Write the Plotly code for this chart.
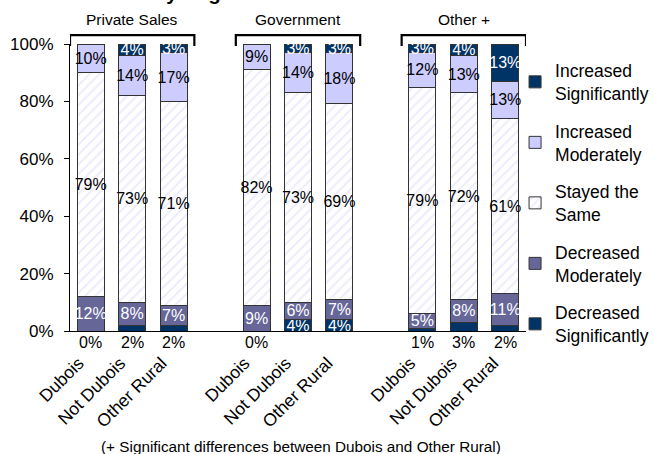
import plotly.graph_objects as go

# ---------------- data ----------------
groups = ["Private Sales", "Government", "Other +"]
regions = ["Dubois", "Not Dubois", "Other Rural"]
series_names = ["Decreased<br>Significantly", "Decreased<br>Moderately", "Stayed the<br>Same",
                "Increased<br>Moderately", "Increased<br>Significantly"]
# values per bar in order: Private(Dubois, Not Dubois, Other Rural), Government(...), Other +(...)
dec_sig = [0, 2, 2, 0, 4, 4, 1, 3, 2]
dec_mod = [12, 8, 7, 9, 6, 7, 5, 8, 11]
stayed = [79, 73, 71, 82, 73, 69, 79, 72, 61]
inc_mod = [10, 14, 17, 9, 14, 18, 12, 13, 13]
inc_sig = [0, 4, 3, 0, 3, 3, 3, 4, 13]
y_ticks = [0, 20, 40, 60, 80, 100]
note = "(+ Significant differences between Dubois and Other Rural)"
title_text = "by Region"

# ---------------- styles ----------------
FONT = "Arial, Liberation Sans, sans-serif"
NAVY = "#003366"
DMOD = "#666699"
IMOD = "#CCCCFF"
colors = [NAVY, DMOD, "white", IMOD, NAVY]
text_colors = ["white", "white", "black", "black", "white"]
series_vals = [dec_sig, dec_mod, stayed, inc_mod, inc_sig]

# x positions: each group takes 3 slots plus one blank slot
xpos = [g * 4 + i for g in range(len(groups)) for i in range(len(regions))]
xlabels = [r for g in groups for r in regions]

fig = go.Figure()
for k, (name, vals) in enumerate(zip(series_names, series_vals)):
    if k == 0:
        texts = [f"{v}%" if v >= 4 else "" for v in vals]
    else:
        texts = [f"{v}%" if v > 0 else "" for v in vals]
    marker = dict(color=colors[k], line=dict(color="#333333", width=1))
    if k == 2:
        marker["pattern"] = dict(shape="/", fgcolor="#D4D4FA", bgcolor="white", size=7, solidity=0.25)
    fig.add_trace(go.Bar(
        x=xpos, y=vals, name=name, marker=marker, width=0.65,
        text=texts, textposition="inside", insidetextanchor="middle",
        textangle=0, constraintext="none",
        textfont=dict(family=FONT, size=16, color=text_colors[k]),
        legendgroup=f"g{k}", legendrank=10 - k, hoverinfo="skip",
    ))

# small decreased-significantly values shown below the axis
for x, v in zip(xpos, dec_sig):
    if v < 4:
        fig.add_annotation(x=x, y=0, xref="x", yref="y", text=f"{v}%", showarrow=False,
                           yanchor="top", yshift=-1,
                           font=dict(family=FONT, size=16, color="black"))

# group headers and brackets
for g, gname in enumerate(groups):
    fig.add_annotation(x=g * 4 + 1, y=(331 - 19) / 287, xref="x", yref="paper", text=gname,
                       showarrow=False, yanchor="middle",
                       font=dict(family=FONT, size=15.5, color="black"))
    fig.add_shape(type="path", xref="x", yref="paper",
                  path=f"M {g*4-0.5},0.993 L {g*4-0.5},1.031 L {g*4+2.5},1.031 L {g*4+2.5},0.993",
                  line=dict(color="black", width=2.2))

# clipped title and footnote
fig.add_annotation(xref="paper", yref="paper", x=(152 - 70) / 456, y=(331 + 7) / 287,
                   xanchor="left", yanchor="middle", text=f"<b>{title_text}</b>",
                   showarrow=False, font=dict(family=FONT, size=20, color="black"))
fig.add_annotation(xref="paper", yref="paper", x=(301 - 70) / 456, y=(331 - 446) / 287,
                   xanchor="center", yanchor="middle", text=note, showarrow=False,
                   font=dict(family=FONT, size=15.3, color="black"))

fig.update_layout(
    width=654, height=454,
    margin=dict(l=70, r=128, t=44, b=123, autoexpand=False),
    paper_bgcolor="white", plot_bgcolor="white",
    barmode="stack", barnorm="percent",
    font=dict(family=FONT, size=16, color="black"),
    showlegend=True,
    legend=dict(x=0.976, y=0.97, xanchor="left", yanchor="top",
                traceorder="grouped", tracegroupgap=12, maxheight=420,
                font=dict(family=FONT, size=17.5, color="black"),
                bgcolor="rgba(0,0,0,0)"),
    xaxis=dict(range=[-0.5, 10.5], tickmode="array", tickvals=xpos, ticktext=xlabels,
               tickangle=-45, ticks="", showline=True, linecolor="black", linewidth=1,
               showgrid=False, zeroline=False, ticklabelstandoff=14, ticklabelshift=-12,
               tickfont=dict(family=FONT, size=17.5, color="black")),
    xaxis2=dict(range=[-0.5, 10.5], overlaying="x", anchor="y", side="bottom",
                tickmode="array", tickvals=[i - 0.5 for i in range(12)],
                ticks="outside", ticklen=5, tickcolor="black", showticklabels=False,
                showgrid=False, zeroline=False, showline=False),
    yaxis=dict(range=[0, 100], tickmode="array", tickvals=y_ticks,
               ticktext=[f"{v}%" for v in y_ticks], ticks="outside", ticklen=5,
               tickcolor="black", showline=True, linecolor="black", linewidth=1,
               showgrid=False, zeroline=False, ticklabelstandoff=7,
               tickfont=dict(family=FONT, size=17, color="black")),
)

fig.write_html("out.html")
